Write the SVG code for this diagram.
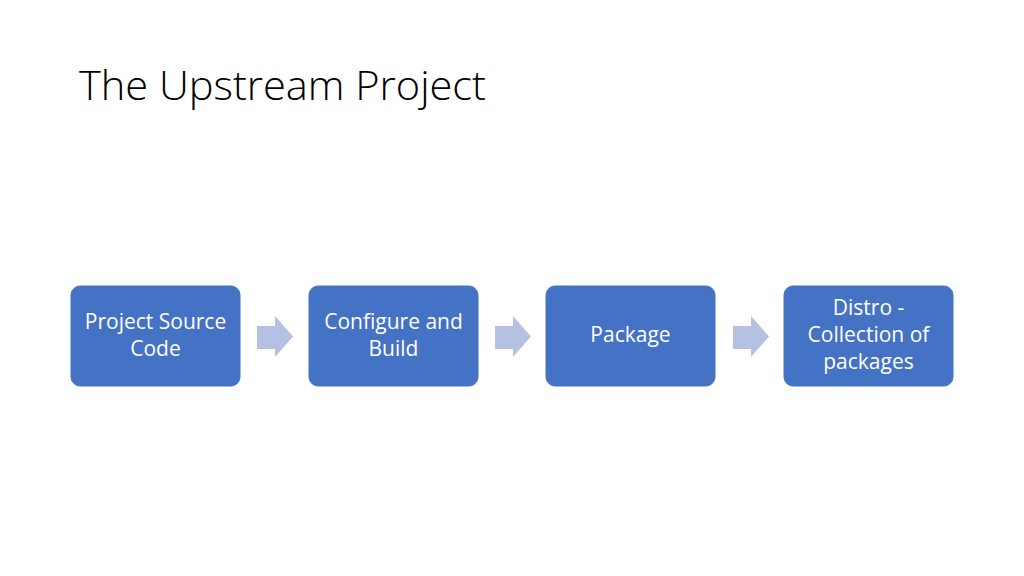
<svg xmlns="http://www.w3.org/2000/svg" width="1024" height="576" viewBox="0 0 1024 576">
<style>
.bg{fill:#ffffff}
.title{font-family:"Open Sans","Liberation Sans",sans-serif;font-weight:300;font-size:40px;fill:#000000}
.box{fill:#4472C4;stroke:#4472C4;stroke-width:1}
.lbl{font-family:"Open Sans","Liberation Sans",sans-serif;font-size:21px;fill:#ffffff;text-anchor:middle}
.arrow{fill:#B4C1E1}
</style>
<defs>
<path id="arr" d="M0,10 H18 V0 L36,20.5 L18,41 V33 H0 Z"/>
</defs>
<rect class="bg" width="1024" height="576"/>
<text class="title" x="79" y="100" textLength="407" lengthAdjust="spacingAndGlyphs">The Upstream Project</text>
<g id="connectors">
<use href="#arr" class="arrow" x="257" y="316"/>
<use href="#arr" class="arrow" x="495" y="316"/>
<use href="#arr" class="arrow" x="733" y="316"/>
</g>
<g id="node1">
<rect class="box" x="71" y="286" width="169" height="100" rx="9"/>
<text class="lbl" x="155.5" y="329">Project Source</text>
<text class="lbl" x="155.5" y="356">Code</text>
</g>
<g id="node2">
<rect class="box" x="309" y="286" width="169" height="100" rx="9"/>
<text class="lbl" x="393.5" y="329">Configure and</text>
<text class="lbl" x="393.5" y="356">Build</text>
</g>
<g id="node3">
<rect class="box" x="546" y="286" width="169" height="100" rx="9"/>
<text class="lbl" x="630.5" y="342">Package</text>
</g>
<g id="node4">
<rect class="box" x="784" y="286" width="169" height="100" rx="9"/>
<text class="lbl" x="868.5" y="315">Distro -</text>
<text class="lbl" x="868.5" y="342">Collection of</text>
<text class="lbl" x="868.5" y="369">packages</text>
</g>
</svg>
